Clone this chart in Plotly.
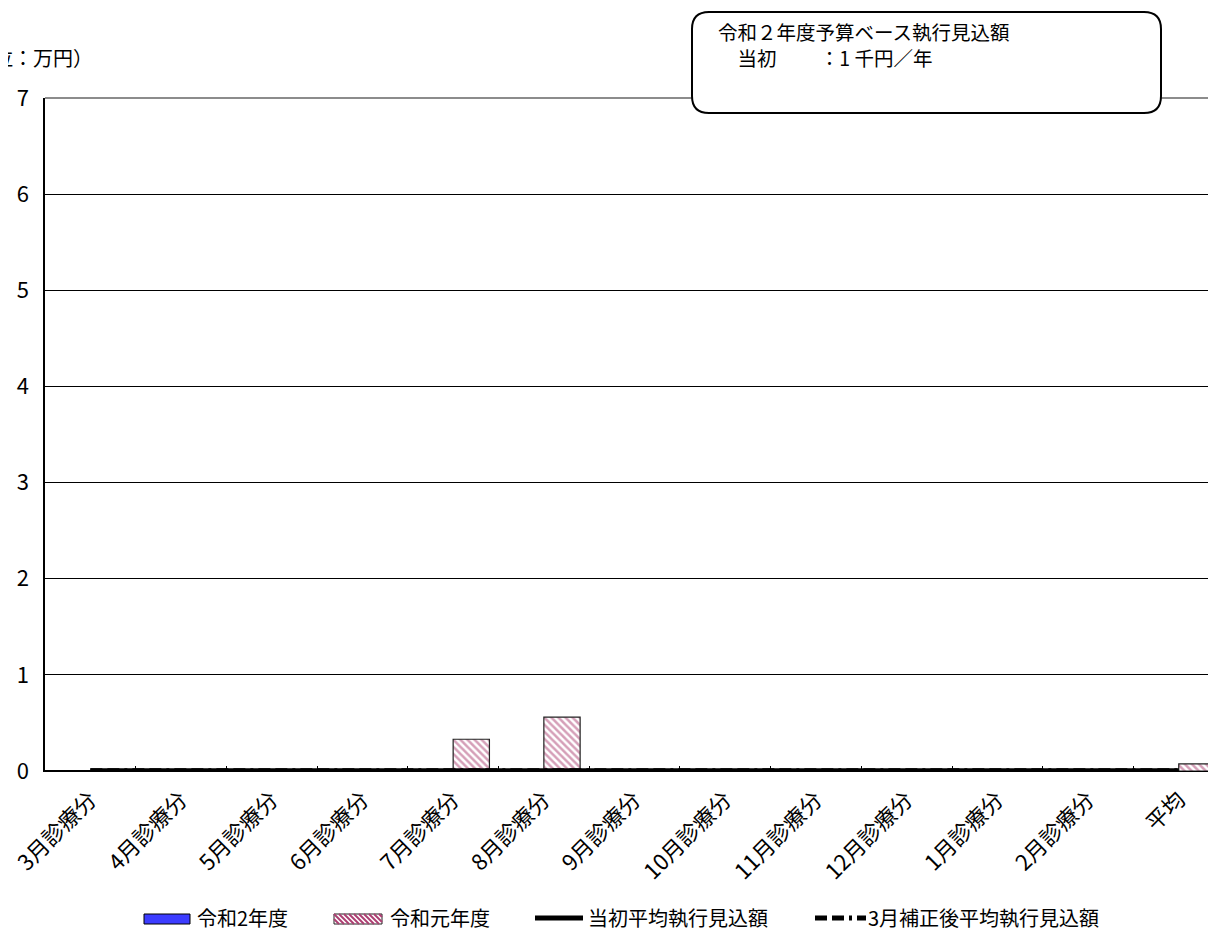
import plotly.graph_objects as go

categories = ["3月診療分", "4月診療分", "5月診療分", "6月診療分", "7月診療分", "8月診療分",
              "9月診療分", "10月診療分", "11月診療分", "12月診療分", "1月診療分", "2月診療分", "平均"]
r2_values = [0, 0, 0, 0, 0, 0, 0, 0, 0, 0, 0, 0, 0]
r1_values = [0, 0, 0, 0, 0.33, 0.56, 0, 0, 0, 0, 0, 0, 0.074]
initial_avg = [0.0083] * 13
march_rev_avg = [0.0083] * 13
y_ticks = [0, 1, 2, 3, 4, 5, 6, 7]
series_names = ["令和2年度", "令和元年度", "当初平均執行見込額", "3月補正後平均執行見込額"]

FONT = "Noto Sans CJK JP"
BODY = 8  # default page body margin
W, H = 1208, 924
L, R, T, B = 37, 0, 90, 161
plot_w = W - L - R
plot_h = H - T - B
PL, PT, PB = BODY + L, BODY + T, BODY + H - B  # plot edges in page pixels

BLUE = "#3c3cff"
PINK = "#ac3f72"
DASH = "12px,5px,12px,5px,3px,5px"

fig = go.Figure()
fig.add_trace(go.Bar(
    x=categories, y=r2_values, name=series_names[0],
    marker=dict(color=BLUE, line=dict(color="black", width=1)),
))
fig.add_trace(go.Bar(
    x=categories, y=r1_values, name=series_names[1],
    marker=dict(color="white", line=dict(color="#222222", width=1.2),
                pattern=dict(shape="\\", fgcolor=PINK, bgcolor="white", size=5, solidity=0.5)),
))
fig.add_trace(go.Scatter(
    x=categories, y=march_rev_avg, name=series_names[3], mode="lines",
    line=dict(color="black", width=4, dash=DASH),
))
fig.add_trace(go.Scatter(
    x=categories, y=initial_avg, name=series_names[2], mode="lines",
    line=dict(color="black", width=4),
))

cat_px = 90.7
x_max = -0.5 + plot_w / cat_px

fig.update_layout(
    width=W, height=H,
    margin=dict(l=L, r=R, t=T, b=B, pad=0),
    paper_bgcolor="white", plot_bgcolor="white",
    font=dict(family=FONT, size=20, color="black"),
    barmode="group", bargap=0.2, bargroupgap=0,
    showlegend=False,
    xaxis=dict(type="category", range=[-0.5, x_max], showgrid=False,
               tickangle=-45, tickson="boundaries", ticks="inside", ticklen=5,
               tickcolor="black", showline=True, linecolor="black", linewidth=1,
               tickfont=dict(size=22, family=FONT), zeroline=False, ticklabelstandoff=6),
    yaxis=dict(range=[0, 7], tickvals=y_ticks, showgrid=True, gridcolor="black", gridwidth=1,
               showline=True, linecolor="black", linewidth=1.5, ticks="",
               tickfont=dict(size=22, family=FONT), zeroline=True, zerolinecolor="black",
               zerolinewidth=1.5, ticklabelstandoff=10),
)


def pxx(p):
    return (p - PL) / plot_w


def pxy(p):
    return (PB - p) / plot_h


# grey top border of plot area
fig.add_shape(type="line", xref="paper", yref="paper", x0=0, x1=1, y0=1, y1=1,
              line=dict(color="#8c8c8c", width=2), layer="below")

# rounded annotation box
x0, x1 = pxx(692), pxx(1161)
y0, y1 = pxy(113), pxy(12)
rx = 17 / plot_w
ry = 17 / plot_h
path = (f"M {x0+rx},{y1} L {x1-rx},{y1} Q {x1},{y1} {x1},{y1-ry} "
        f"L {x1},{y0+ry} Q {x1},{y0} {x1-rx},{y0} L {x0+rx},{y0} "
        f"Q {x0},{y0} {x0},{y0+ry} L {x0},{y1-ry} Q {x0},{y1} {x0+rx},{y1} Z")
fig.add_shape(type="path", path=path, xref="paper", yref="paper",
              line=dict(color="black", width=2), fillcolor="white", layer="above")

box_font = dict(size=19.5, family=FONT, color="black")
fig.add_annotation(x=pxx(716), y=pxy(32), xref="paper", yref="paper", xanchor="left",
                   yanchor="middle", align="left", showarrow=False,
                   text="令和２年度予算ベース執行見込額", font=box_font)
fig.add_annotation(x=pxx(716), y=pxy(58), xref="paper", yref="paper", xanchor="left",
                   yanchor="middle", align="left", showarrow=False,
                   text="　当初　　 ：1 千円／年", font=box_font)

# unit label (clipped at the left edge as in the source)
fig.add_annotation(x=pxx(95), y=pxy(58), xref="paper", yref="paper",
                   xanchor="right", yanchor="middle", showarrow=False,
                   text="（単位：万円）", font=dict(size=20, family=FONT, color="black"))

# legend (drawn manually to match the wide swatches)
leg_y = 917
leg_font = dict(size=20, family=FONT, color="black")
# blue swatch
fig.add_shape(type="rect", xref="paper", yref="paper", x0=pxx(144), x1=pxx(190),
              y0=pxy(924), y1=pxy(914), fillcolor=BLUE, line=dict(color="black", width=1))
fig.add_annotation(x=pxx(195), y=pxy(leg_y), xref="paper", yref="paper", xanchor="left",
                   yanchor="middle", showarrow=False, text=series_names[0], font=leg_font)
# pink hatched swatch
sx0, sx1, sy0, sy1 = 334, 382, 914, 924
fig.add_shape(type="rect", xref="paper", yref="paper", x0=pxx(sx0), x1=pxx(sx1),
              y0=pxy(sy1), y1=pxy(sy0), fillcolor="white", line=dict(color="#222222", width=1))
hh = sy1 - sy0
c = sx0 - hh
while c < sx1:
    t0 = max(0.0, (sx0 - c) / hh)
    t1 = min(1.0, (sx1 - c) / hh)
    if t1 > t0:
        fig.add_shape(type="line", xref="paper", yref="paper",
                      x0=pxx(c + hh * t0), y0=pxy(sy0 + hh * t0),
                      x1=pxx(c + hh * t1), y1=pxy(sy0 + hh * t1),
                      line=dict(color=PINK, width=2))
    c += 5
fig.add_annotation(x=pxx(388), y=pxy(leg_y), xref="paper", yref="paper", xanchor="left",
                   yanchor="middle", showarrow=False, text=series_names[1], font=leg_font)
# solid line swatch
fig.add_shape(type="line", xref="paper", yref="paper", x0=pxx(535), x1=pxx(583),
              y0=pxy(918), y1=pxy(918), line=dict(color="black", width=5))
fig.add_annotation(x=pxx(586), y=pxy(leg_y), xref="paper", yref="paper", xanchor="left",
                   yanchor="middle", showarrow=False, text=series_names[2], font=leg_font)
# dashed line swatch
fig.add_shape(type="line", xref="paper", yref="paper", x0=pxx(815), x1=pxx(866),
              y0=pxy(918), y1=pxy(918), line=dict(color="black", width=5, dash=DASH))
fig.add_annotation(x=pxx(866), y=pxy(leg_y), xref="paper", yref="paper", xanchor="left",
                   yanchor="middle", showarrow=False, text=series_names[3], font=leg_font)

fig.write_html("out.html")
